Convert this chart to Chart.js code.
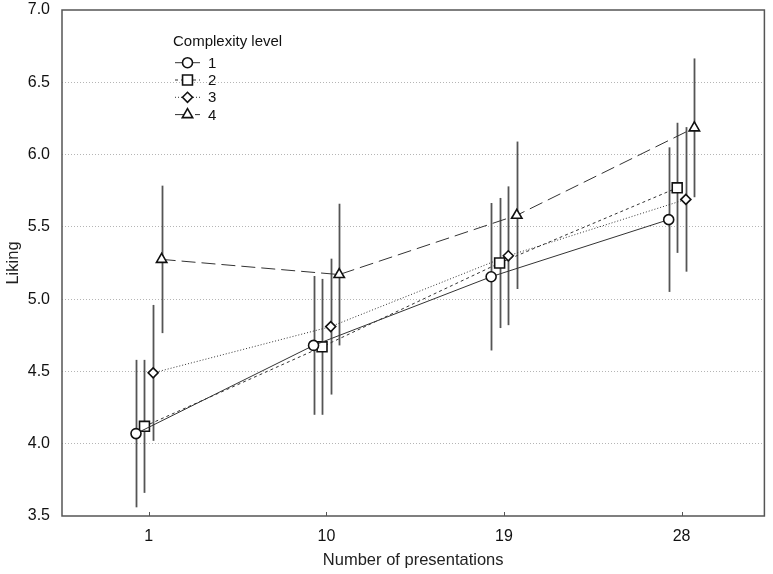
<!DOCTYPE html>
<html lang="en">
<head>
    <meta charset="UTF-8">
    <title>Liking by number of presentations</title>
    <script src="https://cdn.jsdelivr.net/npm/chart.js"></script>
    <style>
        html, body { margin: 0; padding: 0; background: #fff; }
        #wrap { width: 773px; height: 574px; }
    </style>
</head>
<body>
    <div id="wrap"><canvas id="myChart" width="773" height="574"></canvas></div>

    <script>
        // data
        const presentations = [1, 10, 19, 28];
        const levels = ['1', '2', '3', '4'];
        const level1 = [4.07, 4.68, 5.155, 5.55];
        const level2 = [4.12, 4.67, 5.25, 5.77];
        const level3 = [4.49, 4.81, 5.30, 5.69];
        const level4 = [5.275, 5.17, 5.58, 6.185];
        const err1 = [0.51, 0.48, 0.51, 0.50];
        const err2 = [0.46, 0.47, 0.45, 0.45];
        const err3 = [0.47, 0.47, 0.48, 0.50];
        const err4 = [0.51, 0.49, 0.51, 0.48];
        // small horizontal shift so the groups don't overlap
        const shifts = [-0.65, -0.22, 0.22, 0.65];
        const yTicks = [3.5, 4.0, 4.5, 5.0, 5.5, 6.0, 6.5, 7.0];

        const values = [level1, level2, level3, level4];
        const errors = [err1, err2, err3, err4];
        const styles = [
            { pointStyle: 'circle', radius: 5, dash: [] },
            { pointStyle: 'rect', radius: 7, dash: [3, 3] },
            { pointStyle: 'rectRot', radius: 5, dash: [1, 2] },
            { pointStyle: 'triangle', radius: 6, dash: [14, 6] }
        ];
        const font = 'Liberation Sans, Arial, sans-serif';

        const datasets = levels.map((lvl, i) => ({
            label: lvl,
            data: presentations.map((p, j) => ({ x: p + shifts[i], y: values[i][j] })),
            errors: errors[i],
            borderColor: '#333',
            borderWidth: 1,
            borderDash: styles[i].dash,
            pointStyle: styles[i].pointStyle,
            pointRadius: styles[i].radius,
            pointBackgroundColor: '#fff',
            pointBorderColor: '#111',
            pointBorderWidth: 1.6,
            tension: 0
        }));

        // box round the plot, inside x ticks, error bars
        const framePlugin = {
            id: 'frame',
            beforeDatasetsDraw(chart) {
                const { ctx, scales: { x, y } } = chart;
                ctx.save();
                ctx.strokeStyle = '#555';
                ctx.lineWidth = 1.8;
                chart.data.datasets.forEach(ds => {
                    ds.data.forEach((pt, j) => {
                        const px = Math.round(x.getPixelForValue(pt.x)) + 0.5;
                        ctx.beginPath();
                        ctx.moveTo(px, y.getPixelForValue(pt.y + ds.errors[j]));
                        ctx.lineTo(px, y.getPixelForValue(pt.y - ds.errors[j]));
                        ctx.stroke();
                    });
                });
                ctx.restore();
            },
            afterDraw(chart) {
                const { ctx, chartArea: a, scales: { x } } = chart;
                ctx.save();
                ctx.strokeStyle = '#555';
                ctx.lineWidth = 1.5;
                ctx.strokeRect(a.left, a.top, a.right - a.left, a.bottom - a.top);
                ctx.lineWidth = 1;
                presentations.forEach(p => {
                    const px = Math.round(x.getPixelForValue(p)) + 0.5;
                    ctx.beginPath();
                    ctx.moveTo(px, a.bottom);
                    ctx.lineTo(px, a.bottom - 4);
                    ctx.stroke();
                });

                // legend in the top left corner
                const lx = 175, ly = 42, step = 17.3;
                ctx.fillStyle = '#111';
                ctx.font = '15px ' + font;
                ctx.textBaseline = 'middle';
                ctx.textAlign = 'left';
                ctx.fillText('Complexity level', 173, ly);
                chart.data.datasets.forEach((ds, i) => {
                    const yy = ly + 3.4 + step * (i + 1);
                    ctx.strokeStyle = '#333';
                    ctx.lineWidth = 1;
                    ctx.setLineDash(ds.borderDash);
                    ctx.beginPath();
                    ctx.moveTo(lx, yy);
                    ctx.lineTo(lx + 25, yy);
                    ctx.stroke();
                    ctx.setLineDash([]);
                    ctx.fillStyle = '#fff';
                    ctx.strokeStyle = '#111';
                    ctx.lineWidth = 1.6;
                    Chart.helpers.drawPoint(ctx, {
                        pointStyle: ds.pointStyle,
                        radius: ds.pointRadius,
                        borderWidth: 1.6
                    }, lx + 12.5, yy);
                    ctx.fillStyle = '#111';
                    ctx.fillText(ds.label, 208, yy + 1);
                });
                ctx.restore();
            }
        };

        const ctx = document.getElementById('myChart').getContext('2d');
        const chart = new Chart(ctx, {
            type: 'line',
            data: { datasets: datasets },
            plugins: [framePlugin],
            options: {
                responsive: false,
                animation: false,
                layout: { padding: { top: 10, right: 5, left: 0, bottom: 0 } },
                plugins: {
                    legend: { display: false },
                    tooltip: { enabled: false }
                },
                scales: {
                    x: {
                        type: 'linear',
                        min: -3.4,
                        max: 32.2,
                        afterBuildTicks: scale => {
                            scale.ticks = presentations.map(v => ({ value: v }));
                        },
                        afterFit: scale => {
                            scale.height = 58;
                            scale.paddingLeft = 0;
                            scale.paddingRight = 0;
                        },
                        grid: { display: false, drawTicks: false },
                        border: { display: false },
                        ticks: {
                            padding: 11,
                            color: '#111',
                            font: { family: font, size: 16 },
                            callback: v => String(v)
                        },
                        title: {
                            display: true,
                            text: 'Number of presentations',
                            color: '#222',
                            font: { family: font, size: 16.5 },
                            padding: { top: 4, bottom: 4 }
                        }
                    },
                    y: {
                        min: 3.5,
                        max: 7.0,
                        afterBuildTicks: scale => {
                            scale.ticks = yTicks.map(v => ({ value: v }));
                        },
                        afterFit: scale => {
                            scale.width = 62;
                            scale.paddingTop = 0;
                            scale.paddingBottom = 0;
                        },
                        grid: {
                            drawTicks: false,
                            color: c => (c.tick && (c.tick.value === 3.5 || c.tick.value === 7)) ? 'rgba(0,0,0,0)' : '#b5b5b5',
                            lineWidth: 1
                        },
                        border: { display: false, dash: [1, 2] },
                        ticks: {
                            padding: 12,
                            color: '#111',
                            font: { family: font, size: 16 },
                            callback: v => Number(v).toFixed(1)
                        },
                        title: {
                            display: true,
                            text: 'Liking',
                            color: '#222',
                            font: { family: font, size: 16.5 },
                            padding: { top: 4, bottom: 4 }
                        }
                    }
                }
            }
        });
    </script>
</body>
</html>
